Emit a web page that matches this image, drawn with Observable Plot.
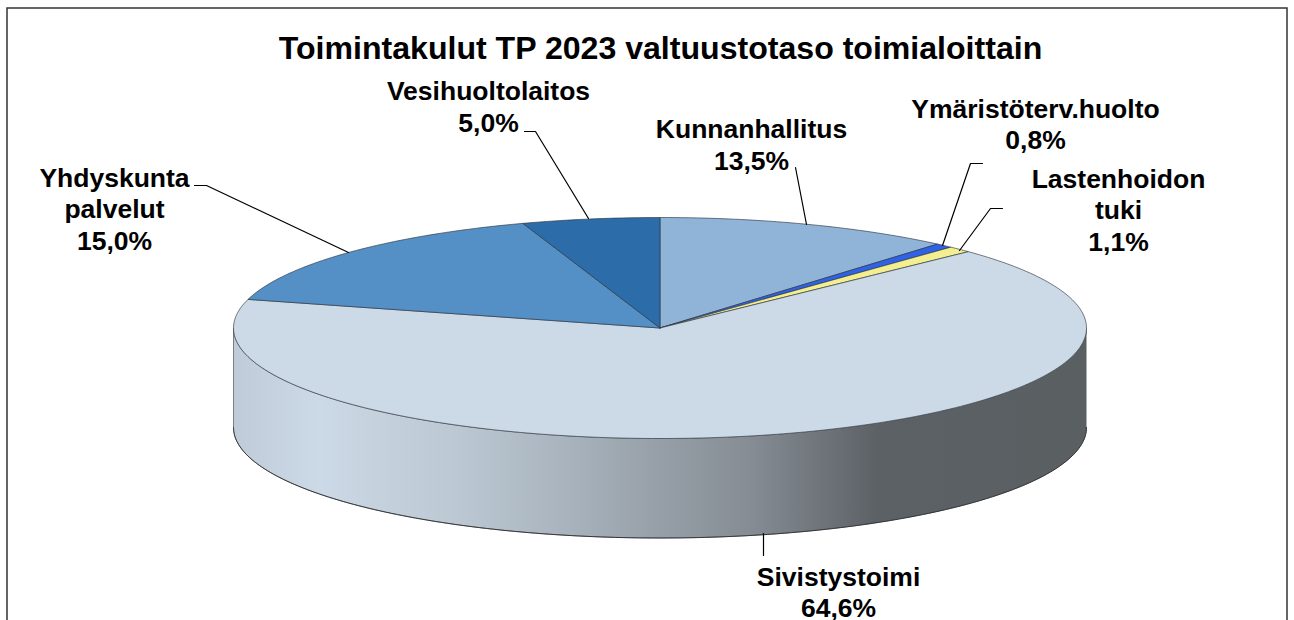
<!DOCTYPE html>
<html><head><meta charset="utf-8">
<script src="https://cdn.jsdelivr.net/npm/d3@7"></script>
<script src="https://cdn.jsdelivr.net/npm/@observablehq/plot@0.6"></script>
<style>html,body{margin:0;padding:0;background:#fff;overflow:hidden}svg{display:block}</style>
</head><body><div id="chart"></div>
<script>
// Data, in clockwise order from 12 o'clock
const names = ["Kunnanhallitus","Ymäristöterv.huolto","Lastenhoidon tuki","Sivistystoimi","Yhdyskunta palvelut","Vesihuoltolaitos"];
const shares = [13.5,0.8,1.1,64.6,15.0,5.0];
const labelLines = ["Kunnanhallitus","Ymäristöterv.huolto","Lastenhoidon\ntuki","Sivistystoimi","Yhdyskunta\npalvelut","Vesihuoltolaitos"];
const colors = ["#8FB4D7","#2F62E6","#F3EE8F","#CCD9E6","#5490C6","#2B6CA9"];

// Layout (pixels of the picture)
const W = 1294, H = 620;
const cx = 659.5, cy = 327.5, rx = 426.5, ry = 110.5, depth = 99.5;
// Perspective of the tilted pie: cumulative share -> apparent angle
const perspective = d3.scaleLinear().domain([0,15.4,80,100]).range([0,46.3,285,360]);
const labelX = [751,1035,1118,838,114,488];
const labelY = [143.5,123,208.5,591,207.5,105.5];
const leaders = [
  [[795,167],[806,224]],
  [[982,163],[970,163],[942,245]],
  [[1002,208],[990,208],[959,250]],
  [[763,533],[763,555]],
  [[194,185],[206,185],[348,252]],
  [[524,131],[535,131],[588,218]]
];
const sideStops = [[0,"#BFCBD8"],[0.10,"#CCD9E6"],[0.258,"#BCC8D3"],[0.386,"#A9B4BE"],[0.607,"#858C93"],[0.755,"#5C6166"],[1,"#5A5F62"]];

const pt = (deg, dy=0) => {
  const a = deg*Math.PI/180;
  return [cx + rx*Math.sin(a), cy - ry*Math.cos(a) + dy];
};
const arc = (a0, a1, dy=0) => {
  const n = Math.max(2, Math.ceil(Math.abs(a1-a0)));
  return d3.range(n+1).map(i => pt(a0 + (a1-a0)*i/n, dy));
};
let cum = 0;
const slices = shares.map((s,i) => {
  const a0 = perspective(cum); cum += s; const a1 = perspective(cum);
  return {name:names[i], color:colors[i], pts:[[cx,cy],...arc(a0,a1),[cx,cy]]};
});
const flat = slices.flatMap(s => s.pts.map(p => ({name:s.name,color:s.color,x:p[0],y:p[1]})));
const sidePts = [...arc(90,270),...arc(270,90,depth)].map(p=>({x:p[0],y:p[1]}));
const sideBottom = arc(90,270,depth).map(p=>({x:p[0],y:p[1]}));
const leaderPts = leaders.flatMap((l,i)=>l.map(p=>({i,x:p[0],y:p[1]})));
const labels = names.map((n,i)=>({text:labelLines[i]+"\n"+shares[i].toFixed(1).replace(".",",")+"%",x:labelX[i],y:labelY[i]}));

const defsMark = () => {
  const ns = "http://www.w3.org/2000/svg";
  const defs = document.createElementNS(ns,"defs");
  const g = document.createElementNS(ns,"linearGradient");
  g.setAttribute("id","sideGrad");
  for (const [o,c] of sideStops) {
    const s = document.createElementNS(ns,"stop");
    s.setAttribute("offset",o); s.setAttribute("stop-color",c); g.appendChild(s);
  }
  defs.appendChild(g); return defs;
};

const chart = Plot.plot({
  width:W, height:H, margin:0,
  style:{fontFamily:"'Liberation Sans',Arial,sans-serif",background:"#fff",color:"#000"},
  x:{domain:[0,W],range:[0,W],axis:null},
  y:{domain:[0,H],range:[0,H],axis:null},
  marks:[
    defsMark,
    Plot.rect([{}],{x1:()=>7,x2:()=>1287,y1:()=>8,y2:()=>640,stroke:"#333",strokeWidth:1.5,fill:"#fff"}),
    Plot.line(sidePts,{x:"x",y:"y",fill:"url(#sideGrad)",stroke:"#5f6468",strokeWidth:0.8,curve:"linear"}),
    Plot.line(sideBottom,{x:"x",y:"y",stroke:"#222",strokeWidth:1,strokeOpacity:0.75}),
    Plot.line(flat,{x:"x",y:"y",z:"name",fill:"color",stroke:"#2a3440",strokeWidth:0.8,strokeOpacity:0.8,strokeLinejoin:"round"}),
    Plot.line(leaderPts,{x:"x",y:"y",z:"i",stroke:"#000",strokeWidth:1.2}),
    Plot.text(labels,{x:"x",y:"y",text:"text",fontSize:26.5,fontWeight:700,lineHeight:1.19,fill:"#000"}),
    Plot.text(["Toimintakulut TP 2023 valtuustotaso toimialoittain"],{x:()=>660,y:()=>48.5,text:d=>d,fontSize:32.1,fontWeight:700,fill:"#000"})
  ]
});
document.getElementById("chart").appendChild(chart);
</script></body></html>
